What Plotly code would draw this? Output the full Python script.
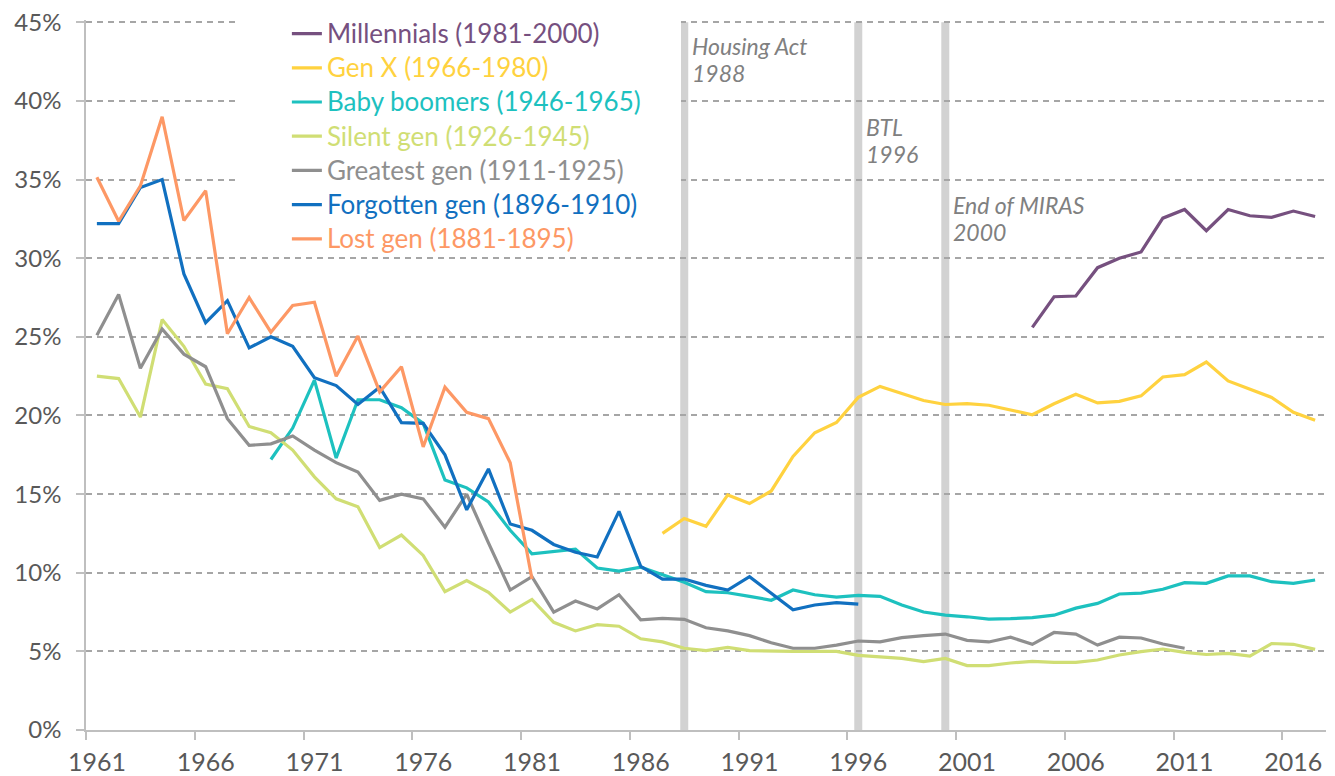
import plotly.graph_objects as go

# ---------------- data ----------------
years_millennials = list(range(2004, 2018))
millennials = [25.6, 27.55, 27.6, 29.4, 30.0, 30.4, 32.55, 33.1, 31.75, 33.1, 32.7, 32.6, 33.0, 32.65]

years_genx = list(range(1987, 2018))
genx = [12.5, 13.45, 12.95, 14.95, 14.4, 15.2, 17.4, 18.9, 19.55, 21.15, 21.85, 21.4, 20.95,
        20.7, 20.75, 20.65, 20.35, 20.05, 20.75, 21.35, 20.8, 20.9, 21.25, 22.45, 22.6, 23.4,
        22.2, 21.7, 21.15, 20.2, 19.7]

years_boomers = list(range(1969, 2018))
boomers = [17.2, 19.2, 22.25, 17.3, 21.0, 21.0, 20.5, 19.5, 15.9, 15.4, 14.5, 12.7, 11.2, 11.35,
           11.5, 10.3, 10.1, 10.35, 9.9, 9.4, 8.8, 8.73, 8.5, 8.25, 8.9, 8.6, 8.45, 8.56, 8.5,
           7.95, 7.5, 7.3, 7.2, 7.05, 7.08, 7.15, 7.3, 7.75, 8.05, 8.65, 8.7, 8.95, 9.37, 9.33,
           9.8, 9.8, 9.43, 9.33, 9.54]

years_silent = list(range(1961, 2018))
silent = [22.5, 22.35, 19.9, 26.1, 24.4, 22.0, 21.7, 19.3, 18.9, 17.8, 16.1, 14.7, 14.2, 11.6,
          12.4, 11.1, 8.8, 9.5, 8.75, 7.5, 8.3, 6.85, 6.3, 6.7, 6.6, 5.8, 5.6, 5.2, 5.05, 5.25,
          5.05, 5.0, 5.0, 5.0, 5.0, 4.75, 4.66, 4.55, 4.35, 4.55, 4.1, 4.1, 4.26, 4.37, 4.3,
          4.3, 4.45, 4.77, 4.98, 5.15, 4.94, 4.8, 4.87, 4.7, 5.5, 5.45, 5.13]

years_greatest = list(range(1961, 2012))
greatest = [25.1, 27.7, 23.0, 25.5, 23.9, 23.1, 19.8, 18.1, 18.2, 18.7, 17.8, 17.0, 16.4, 14.6,
            15.0, 14.7, 12.9, 15.0, 11.9, 8.9, 9.75, 7.5, 8.2, 7.7, 8.6, 7.0, 7.1, 7.04, 6.5,
            6.3, 6.0, 5.55, 5.2, 5.2, 5.4, 5.66, 5.6, 5.87, 6.0, 6.1, 5.7, 5.6, 5.9, 5.45,
            6.2, 6.1, 5.4, 5.9, 5.85, 5.47, 5.2]

years_forgotten = list(range(1961, 1997))
forgotten = [32.2, 32.2, 34.5, 35.0, 29.0, 25.9, 27.3, 24.3, 25.0, 24.4, 22.4, 21.9, 20.7, 21.8,
             19.55, 19.5, 17.5, 14.0, 16.6, 13.1, 12.7, 11.8, 11.3, 11.0, 13.9, 10.4, 9.6, 9.6,
             9.2, 8.9, 9.75, 8.7, 7.65, 7.95, 8.1, 8.0]

years_lost = list(range(1961, 1982))
lost = [35.15, 32.35, 34.6, 39.0, 32.4, 34.3, 25.2, 27.5, 25.3, 27.0, 27.2, 22.5, 25.05, 21.5,
        23.1, 18.0, 21.8, 20.2, 19.8, 17.0, 9.6]

series_names = ["Millennials (1981-2000)", "Gen X (1966-1980)", "Baby boomers (1946-1965)",
                "Silent gen (1926-1945)", "Greatest gen (1911-1925)", "Forgotten gen (1896-1910)",
                "Lost gen (1881-1895)"]
series_x = [years_millennials, years_genx, years_boomers, years_silent, years_greatest,
            years_forgotten, years_lost]
series_y = [millennials, genx, boomers, silent, greatest, forgotten, lost]
colors = ["#76507f", "#ffd23f", "#1dc1bf", "#d0de74", "#8f8f8f", "#1170c0", "#fd9865"]

event_years = [1988, 1996, 2000]
event_labels = ["Housing Act", "BTL", "End of MIRAS"]
event_label_y = [43.5, 38.35, 33.4]

x_tickvals = list(range(1961, 2017, 5))
x_ticktext = [str(v) for v in x_tickvals]
y_tickvals = list(range(0, 50, 5))
y_ticktext = [f"{v}%" for v in y_tickvals]

FONT = "Lato"
TICK_COLOR = "#595959"

fig = go.Figure()
for name, xs, ys, c in zip(series_names, series_x, series_y, colors):
    fig.add_trace(go.Scatter(
        x=xs, y=ys, mode="lines",
        name=f"<span style='color:{c};font-size:26px'>{name}</span>",
        line=dict(color=c, width=3.2),
    ))

for yr in event_years:
    fig.add_shape(type="line", xref="x", yref="y", x0=yr, x1=yr, y0=0, y1=45,
                  line=dict(color="#d2d2d2", width=8), layer="below")

# white legend background box (hides gridlines behind the legend)
fig.add_shape(type="rect", xref="x", yref="y", x0=1967.4, x1=1987.85, y0=30.5, y1=45.15,
              line=dict(width=0), fillcolor="white", layer="between")

for yr, lab, ly in zip(event_years, event_labels, event_label_y):
    fig.add_annotation(x=yr, y=ly, xref="x", yref="y", text=f"<i>{lab}</i>",
                       showarrow=False, xanchor="left", yanchor="middle", xshift=6,
                       font=dict(family=FONT, size=23, color="#808080"))
    fig.add_annotation(x=yr, y=ly, xref="x", yref="y", text=f"<i>{yr}</i>",
                       showarrow=False, xanchor="left", yanchor="middle", xshift=6, yshift=-27,
                       font=dict(family=FONT, size=23, color="#808080"))

fig.update_layout(
    width=1327, height=768,
    margin=dict(l=78, r=9, t=12, b=46, autoexpand=False),
    paper_bgcolor="white", plot_bgcolor="white",
    font=dict(family=FONT, color=TICK_COLOR),
    showlegend=True,
    legend=dict(xref="paper", yref="paper", x=0.162, y=1.012,
                xanchor="left", yanchor="top", bgcolor="rgba(0,0,0,0)",
                font=dict(family=FONT, size=24), tracegroupgap=0),
    xaxis=dict(range=[1960.5, 2017.5], tickvals=x_tickvals, ticktext=x_ticktext,
               ticks="", showgrid=False, zeroline=False, tickangle=0,
               showline=True, linecolor="#bfbfbf", linewidth=1.5,
               tickfont=dict(family=FONT, size=25, color=TICK_COLOR),
               ticklabelstandoff=9, ticklabeloverflow="allow",
               minor=dict(tick0=1960.5, dtick=5, ticks="outside", ticklen=8,
                          tickcolor="#bfbfbf", tickwidth=1.5, showgrid=False)),
    yaxis=dict(range=[0, 45.15], tickvals=y_tickvals, ticktext=y_ticktext,
               ticks="outside", ticklen=8, tickcolor="#bfbfbf", tickwidth=1.5,
               showline=True, linecolor="#bfbfbf", linewidth=1.5,
               showgrid=True, gridcolor="#a6a6a6", gridwidth=1.5, griddash="6px,5px",
               zeroline=False,
               tickfont=dict(family=FONT, size=24, color=TICK_COLOR),
               ticklabelstandoff=10, ticklabeloverflow="allow"),
)

fig.write_html("out.html")
